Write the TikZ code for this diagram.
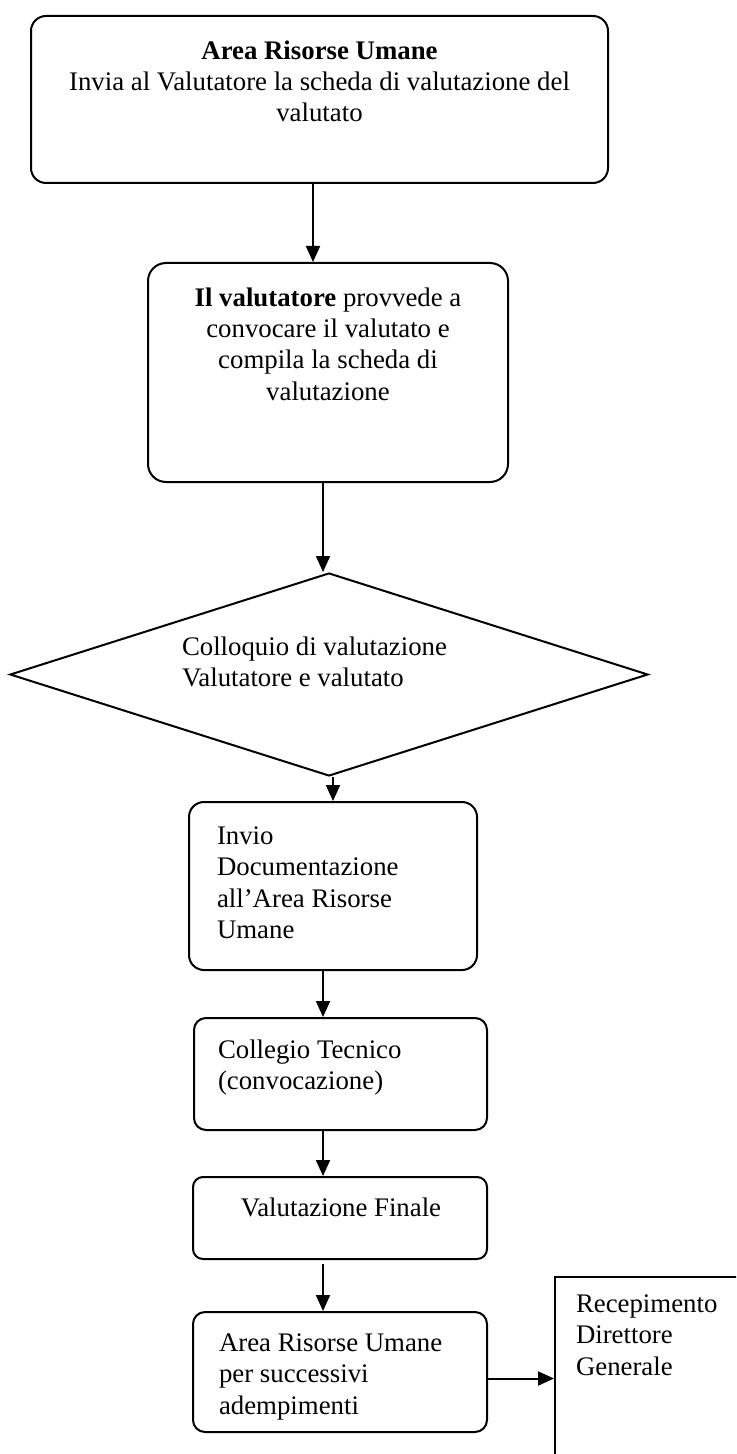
\documentclass[tikz,border=0pt]{standalone}
\usepackage{fontspec}
\setmainfont{Liberation Serif}
\usetikzlibrary{arrows.meta,shapes.geometric}
\begin{document}
\begin{tikzpicture}[x=0.5pt,y=-0.5pt,
  line width=1pt,
  rbox/.style={draw,rectangle,inner sep=0pt,line width=1pt},
  sbox/.style={draw,rectangle,inner sep=0pt,line width=1pt},
  dbox/.style={draw,diamond,inner sep=0pt,line width=1pt},
  txt/.style={inner sep=0pt,font=\fontsize{13.4}{15.6}\selectfont},
  arr/.style={-{Triangle[length=8pt,width=7pt]},line width=1pt}]
\useasboundingbox (0,0) rectangle (736,1454);
\clip (0,0) rectangle (736,1454);
% boxes
\node[rbox,rounded corners=7.5pt,minimum width=288.5pt,minimum height=83.5pt] (b1) at (319.5,99.5) {};
\node[rbox,rounded corners=9pt,minimum width=180pt,minimum height=109.5pt] (b2) at (328,372.5) {};
\node[dbox,minimum width=319pt,minimum height=101.5pt] (dia) at (329,674.5) {};
\node[rbox,rounded corners=7.5pt,minimum width=144pt,minimum height=84pt] (b3) at (333,886) {};
\node[rbox,rounded corners=6pt,minimum width=146.5pt,minimum height=56pt] (b4) at (340.5,1074) {};
\node[rbox,rounded corners=5pt,minimum width=147pt,minimum height=41pt] (b5) at (340,1218) {};
\node[rbox,rounded corners=6pt,minimum width=147pt,minimum height=60pt] (b6) at (340,1372) {};
\node[sbox,minimum width=102.5pt,minimum height=101.5pt] (b7) at (657.5,1378.5) {};
% texts
\node[txt,anchor=north,align=center] (t1) at (319.5,40) {\textbf{Area Risorse Umane}\\Invia al Valutatore la scheda di valutazione del\\valutato};
\node[txt,anchor=north,align=center] (t2) at (328,287) {\textbf{Il valutatore} provvede a\\convocare il valutato e\\compila la scheda di\\valutazione};
\node[txt,anchor=north west,align=left] (t3) at (181,636) {Colloquio di valutazione\\Valutatore e valutato};
\node[txt,anchor=north west,align=left] (t4) at (216,826) {Invio\\Documentazione\\all’Area Risorse\\Umane};
\node[txt,anchor=north west,align=left] (t5) at (217,1039) {Collegio Tecnico\\(convocazione)};
\node[txt,anchor=north,align=center] (t6) at (341,1197) {Valutazione Finale};
\node[txt,anchor=north west,align=left] (t7) at (218,1333) {Area Risorse Umane\\per successivi\\adempimenti};
\node[txt,anchor=north west,align=left] (t8) at (575,1294) {Recepimento\\Direttore\\Generale};
% connectors
\draw[arr] ([xshift=-3.25pt]b1.south) -- ([xshift=-3.25pt]b1.south |- b2.north);
\draw[arr] ([xshift=-2.5pt]b2.south) -- ([xshift=-2.5pt]b2.south |- dia.north);
\draw[arr] (dia.south -| b3.north) -- (b3.north);
\draw[arr] ([xshift=-5pt]b3.south) -- ([xshift=-5pt]b3.south |- b4.north);
\draw[arr] ([xshift=-8.75pt]b4.south) -- ([xshift=-8.75pt]b4.south |- b5.north);
\draw[arr] ([xshift=-8.5pt,yshift=-2pt]b5.south) -- ([xshift=-8.5pt]b5.south |- b6.north);
\draw[arr] (b6.east |- b7.west) -- (b7.west);
\end{tikzpicture}
\end{document}
